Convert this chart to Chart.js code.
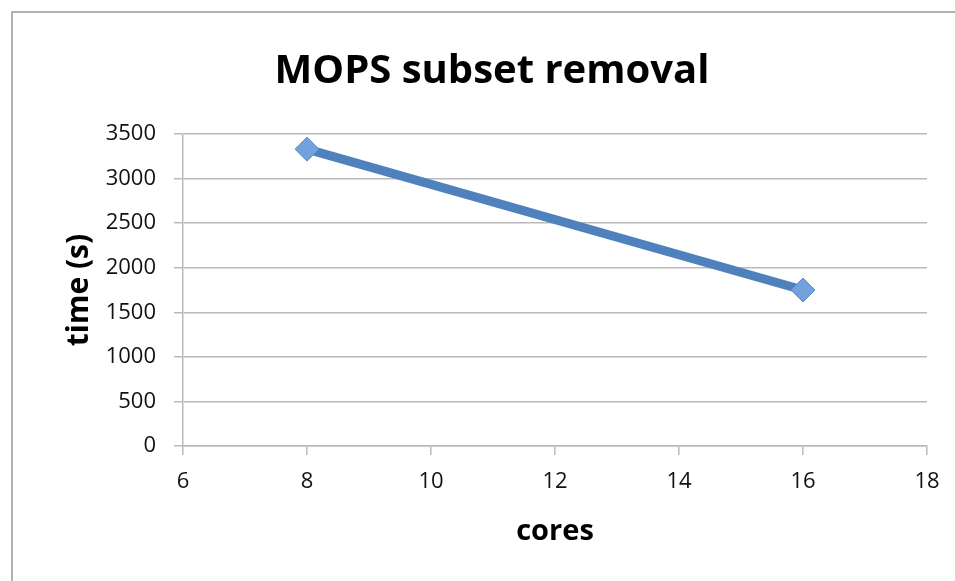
<!DOCTYPE html>
<html>
<head>
<meta charset="utf-8">
<script src="https://cdn.jsdelivr.net/npm/chart.js@4/dist/chart.umd.min.js"></script>
<style>
  html, body { margin: 0; padding: 0; background: #fff; }
  canvas { display: block; }
</style>
</head>
<body>
<canvas id="chart" width="955" height="581"></canvas>
<script>
// data
const cores = [8, 16];
const timeSeconds = [3330, 1750];
const xTicks = [6, 8, 10, 12, 14, 16, 18];
const yTicks = [0, 500, 1000, 1500, 2000, 2500, 3000, 3500];

const FONT = '"Open Sans", "DejaVu Sans", sans-serif';
const GRID = '#bababa';

// gray frame around the chart (only top and left are inside the picture)
const framePlugin = {
  id: 'frame',
  beforeDraw(chart) {
    const ctx = chart.ctx;
    ctx.save();
    ctx.strokeStyle = '#b3b3b3';
    ctx.lineWidth = 2;
    ctx.strokeRect(12, 12, 1000, 1000);
    ctx.restore();
  }
};

new Chart(document.getElementById('chart').getContext('2d'), {
  type: 'scatter',
  data: {
    datasets: [{
      label: 'time',
      data: cores.map((c, i) => ({ x: c, y: timeSeconds[i] })),
      showLine: true,
      borderColor: '#4f81bd',
      borderWidth: 9,
      pointStyle: 'rectRot',
      pointRadius: 12,
      pointBackgroundColor: '#72a2de',
      pointBorderColor: '#5a8ccc',
      pointBorderWidth: 1
    }]
  },
  options: {
    responsive: false,
    animation: false,
    layout: { padding: { left: 57, right: 28, top: 0, bottom: 0 } },
    plugins: {
      legend: { display: false },
      tooltip: { enabled: false },
      title: {
        display: true,
        text: 'MOPS subset removal',
        color: '#000',
        font: { family: FONT, size: 40, weight: 'bold' },
        padding: { top: 48, bottom: 38 }
      }
    },
    scales: {
      x: {
        type: 'linear',
        min: xTicks[0],
        max: xTicks[xTicks.length - 1],
        afterFit(scale) { scale.height = 135; },
        afterBuildTicks(scale) { scale.ticks = xTicks.map(v => ({ value: v })); },
        grid: { drawOnChartArea: false, color: GRID, lineWidth: 1.5, tickLength: 9 },
        border: { color: GRID, width: 1.5 },
        ticks: {
          color: '#111',
          padding: 14,
          font: { family: FONT, size: 22 },
          callback: v => String(v)
        },
        title: {
          display: true,
          text: 'cores',
          color: '#000',
          font: { family: FONT, size: 29, weight: 'bold' },
          padding: { top: 0, bottom: 32 }
        }
      },
      y: {
        min: yTicks[0],
        max: yTicks[yTicks.length - 1],
        afterFit(scale) { scale.width = 183 - 57; },
        afterBuildTicks(scale) { scale.ticks = yTicks.map(v => ({ value: v })); },
        grid: { color: GRID, lineWidth: 1.5, tickLength: 9 },
        border: { color: GRID, width: 1.5 },
        ticks: {
          color: '#111',
          padding: 18,
          font: { family: FONT, size: 22 },
          callback: v => String(v)
        },
        title: {
          display: true,
          text: 'time (s)',
          color: '#000',
          font: { family: FONT, size: 30, weight: 'bold' },
          padding: { top: 4, bottom: 0 }
        }
      }
    }
  },
  plugins: [framePlugin]
});
</script>
</body>
</html>
